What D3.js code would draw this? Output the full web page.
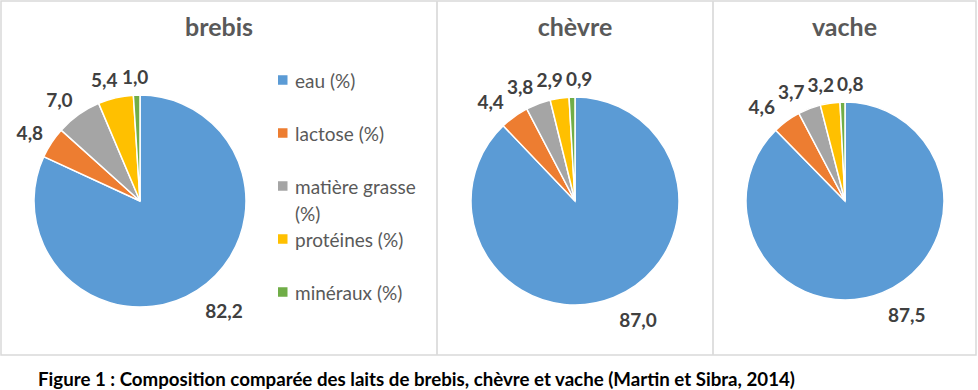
<!DOCTYPE html>
<html lang="fr">
<head>
<meta charset="utf-8">
<title>Composition comparée des laits</title>
<script src="https://cdn.jsdelivr.net/npm/d3@7"></script>
<style>
  body { margin: 0; background: #fff; }
  text { font-family: Lato, "Open Sans", sans-serif; }
</style>
</head>
<body>
<script>
// data
var components = ["eau (%)", "lactose (%)", "matière grasse (%)", "protéines (%)", "minéraux (%)"];
var animals = ["brebis", "chèvre", "vache"];
var brebis = [82.2, 4.8, 7.0, 5.4, 1.0];
var chevre = [87.0, 4.4, 3.8, 2.9, 0.9];
var vache  = [87.5, 4.6, 3.7, 3.2, 0.8];
var series = [brebis, chevre, vache];
var caption = "Figure 1 : Composition comparée des laits de brebis, chèvre et vache (Martin et Sibra, 2014)";

var width = 978, height = 390;

// panel frames and pie geometry
var panels = [
  {x0: 1,   x1: 437, cx: 140, cy: 201, r: 106},
  {x0: 437, x1: 713, cx: 575, cy: 201, r: 104},
  {x0: 713, x1: 976, cx: 845, cy: 201, r: 99}
];

var color = d3.scaleOrdinal()
    .domain(components)
    .range(["#5b9bd5", "#ed7d31", "#a5a5a5", "#ffc000", "#70ad47"]);

var fr = d3.formatLocale({decimal: ",", thousands: " ", grouping: [3], currency: ["", "€"]});
var fmt = fr.format(".1f");

var svg = d3.select("body").append("svg")
    .attr("width", width)
    .attr("height", height);

// frame
svg.append("rect")
    .attr("x", 1).attr("y", 1)
    .attr("width", 975).attr("height", 354)
    .attr("fill", "none")
    .attr("stroke", "#d9d9d9")
    .attr("stroke-width", 1.5);

svg.selectAll("line.divider")
    .data(panels.slice(1))
    .enter().append("line")
    .attr("class", "divider")
    .attr("x1", function(d) { return d.x0; })
    .attr("x2", function(d) { return d.x0; })
    .attr("y1", 1).attr("y2", 355)
    .attr("stroke", "#dcdcdc")
    .attr("stroke-width", 1.8);

var pie = d3.pie().sort(null).value(function(d) { return d; });
var labelSize = 19;

panels.forEach(function(p, k) {
  var g = svg.append("g");

  g.append("text")
      .attr("x", (p.x0 + p.x1) / 2)
      .attr("y", 36)
      .attr("text-anchor", "middle")
      .attr("font-size", 25)
      .attr("font-weight", "bold")
      .attr("fill", "#595959")
      .text(animals[k]);

  var arc = d3.arc().innerRadius(0).outerRadius(p.r);
  var arcs = pie(series[k]);

  var pg = g.append("g").attr("transform", "translate(" + p.cx + "," + p.cy + ")");

  pg.selectAll("path")
      .data(arcs)
      .enter().append("path")
      .attr("d", arc)
      .attr("fill", function(d, i) { return color(components[i]); })
      .attr("stroke", "#fff")
      .attr("stroke-width", 1.5);

  // labels, outside end
  var labels = pg.selectAll("text.lbl")
      .data(arcs)
      .enter().append("text")
      .attr("class", "lbl")
      .attr("text-anchor", "middle")
      .attr("dominant-baseline", "central")
      .attr("font-size", labelSize)
      .attr("font-weight", "bold")
      .attr("fill", "#404040")
      .text(function(d) { return fmt(d.data); });

  var boxes = [];
  labels.each(function(d) {
    var w = this.getComputedTextLength(), h = labelSize - 2;
    var a = (d.startAngle + d.endAngle) / 2;
    var s = Math.sin(a), c = -Math.cos(a);
    var rr = p.r + (c > 0 ? 15 : 10);
    var f = Math.min(1, 3 * Math.abs(s));
    boxes.push({x: rr * s + Math.sign(s) * f * w / 2, y: rr * c + c * h / 2, w: w, h: h});
  });

  // push overlapping labels apart sideways
  for (var it = 0; it < 60; it++) {
    for (var i = 0; i < boxes.length; i++) {
      for (var j = i + 1; j < boxes.length; j++) {
        var a1 = boxes[i], b1 = boxes[j];
        var ox = (a1.w + b1.w) / 2 + 3 - Math.abs(a1.x - b1.x);
        var oy = (a1.h + b1.h) / 2 - Math.abs(a1.y - b1.y);
        if (ox > 0 && oy > 0) {
          var dir = a1.x <= b1.x ? 1 : -1;
          a1.x -= dir * ox / 2;
          b1.x += dir * ox / 2;
        }
      }
    }
  }

  labels
      .attr("x", function(d, i) { return boxes[i].x; })
      .attr("y", function(d, i) { return boxes[i].y; });
});

// legend
var legend = svg.append("g").attr("transform", "translate(278,0)");
var rowY = d3.scalePoint().domain(components).range([80, 292]);

components.forEach(function(name) {
  var row = legend.append("g").attr("transform", "translate(0," + rowY(name) + ")");
  row.append("rect")
      .attr("x", 0).attr("y", -4.75)
      .attr("width", 9.5).attr("height", 9.5)
      .attr("fill", color(name));
  var t = row.append("text")
      .attr("x", 17)
      .attr("y", 0)
      .attr("dominant-baseline", "central")
      .attr("font-size", 19)
      .attr("fill", "#595959");
  // wrap to the legend column
  var words = name.split(" "), line = [], tspan = t.append("tspan").attr("x", 17).attr("dy", 0);
  words.forEach(function(w) {
    line.push(w);
    tspan.text(line.join(" "));
    if (tspan.node().getComputedTextLength() > 140 && line.length > 1) {
      line.pop();
      tspan.text(line.join(" "));
      line = [w];
      tspan = t.append("tspan").attr("x", 17).attr("dy", 27).text(w);
    }
  });
});

// caption
svg.append("text")
    .attr("x", 38)
    .attr("y", 386)
    .attr("font-size", 18.7)
    .attr("font-weight", "bold")
    .attr("fill", "#000")
    .text(caption);
</script>
</body>
</html>
